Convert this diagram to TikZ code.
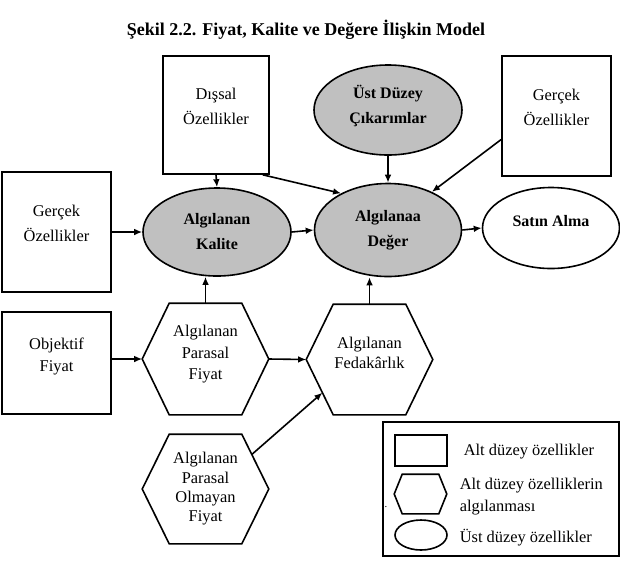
\documentclass[tikz,border=0pt]{standalone}
\usepackage{fontspec}
\setmainfont{Liberation Serif}
\usetikzlibrary{shapes.geometric,arrows.meta,calc}
\definecolor{ovalgray}{HTML}{C0C0C0}
\newcommand{\hexa}[2]{\draw (#1.west) -- ($(#1.north west)+(#2,0)$) coordinate (#1-nw) -- ($(#1.north east)-(#2,0)$) coordinate (#1-ne) -- (#1.east) -- ($(#1.south east)-(#2,0)$) coordinate (#1-se) -- ($(#1.south west)+(#2,0)$) coordinate (#1-sw) -- cycle;}
\begin{document}
\begin{tikzpicture}[x=0.75pt,y=-0.75pt,line width=1.2pt,>={Latex[length=6pt,width=5pt]},
  box/.style={draw,rectangle,inner sep=0pt,align=center,font=\fontsize{12.3}{18.5}\selectfont,text depth=13pt},
  oval/.style={draw,ellipse,inner sep=0pt,align=center,fill=ovalgray,font=\bfseries\fontsize{12}{18.75}\selectfont},
  hexbox/.style={inner sep=0pt,align=center,font=\fontsize{12.3}{16}\selectfont},
  legtext/.style={anchor=west,align=left,inner sep=0pt,font=\fontsize{12.3}{16.5}\selectfont}]
\useasboundingbox (0,0) rectangle (620,568);
\node[font=\bfseries\fontsize{13.5}{16}\selectfont] (title) at (306,30) {Şekil 2.2. Fiyat, Kalite ve Değere İlişkin Model};
\node[box,minimum width=79.5pt,minimum height=88.5pt] (dis) at (216,115) {Dışsal\\Özellikler};
\node[oval,minimum width=111pt,minimum height=67.5pt,text depth=9pt] (ust) at (388,110) {Üst Düzey\\Çıkarımlar};
\node[box,minimum width=81.75pt,minimum height=90pt] (gerr) at (556.5,116) {Gerçek\\Özellikler};
\node[box,minimum width=81.75pt,minimum height=90pt] (gerl) at (56.5,232) {Gerçek\\Özellikler};
\node[oval,minimum width=111pt,minimum height=66pt] (kal) at (217,232) {Algılanan\\Kalite};
\node[oval,minimum width=110.25pt,minimum height=69.75pt] (deg) at (388,230) {Algılanaa\\Değer};
\node[oval,fill=white,minimum width=102.75pt,minimum height=60.75pt,text depth=10.5pt] (sat) at (551,228) {Satın Alma};
\node[box,minimum width=81.75pt,minimum height=76.5pt,font=\fontsize{12.3}{16.5}\selectfont] (obj) at (56.5,363) {Objektif\\Fiyat};
\node[hexbox,minimum width=93.75pt,minimum height=82.5pt,text depth=10pt] (pf) at (205.5,359) {Algılanan\\Parasal\\Fiyat};
\node[hexbox,minimum width=93.75pt,minimum height=81.75pt,text depth=10.5pt,font=\fontsize{12.3}{15}\selectfont] (fed) at (369.5,359.5) {Algılanan\\Fedakârlık};
\node[hexbox,minimum width=93.75pt,minimum height=81pt,font=\fontsize{12.3}{14.5}\selectfont] (opf) at (205.5,489) {Algılanan\\Parasal\\Olmayan\\Fiyat};
\hexa{pf}{27}
\hexa{fed}{27}
\hexa{opf}{27}
\draw[->] (dis.south) -- (kal.north);
\draw[->] (dis.-52) -- (deg.142);
\draw[->] (ust) -- (deg);
\draw[->] (gerr.203) -- (deg.41);
\draw[->] (gerl.east) -- (kal.west);
\draw[->] (kal.east) -- (deg.west);
\draw[->] (deg.east) -- (sat.west);
\draw[->] (obj.east |- pf.west) -- (pf.west);
\draw[->] (pf.east) -- (fed.west);
\draw[->] (pf.north) -- (pf.north |- kal.south);
\draw[->] (fed.north) -- (fed.north |- deg.south);
\draw[->] ($(opf-ne)!0.37!(opf.east)$) -- ($(fed.west)!0.6!(fed-sw)$);
\node[draw,minimum width=177pt,minimum height=100.5pt,inner sep=0pt] (leg) at (501,489) {};
\node[draw,minimum width=39pt,minimum height=23.25pt,inner sep=0pt] (lbox) at (421,450.5) {};
\node[minimum width=38.25pt,minimum height=28.5pt,inner sep=0pt] (lhex) at (420.5,494) {};
\hexa{lhex}{8}
\node[draw,ellipse,minimum width=39pt,minimum height=22.5pt,inner sep=0pt] (lell) at (421,535) {};
\node[legtext] (lt1) at (463,452) {Alt düzey özellikler};
\node[legtext] (lt2) at (459,497) {Alt düzey özelliklerin\\algılanması};
\node[legtext] (lt3) at (459,538) {Üst düzey özellikler};
\node[font=\fontsize{8}{8}\selectfont,inner sep=0pt] (dot) at (386,507) {.};
\end{tikzpicture}
\end{document}
